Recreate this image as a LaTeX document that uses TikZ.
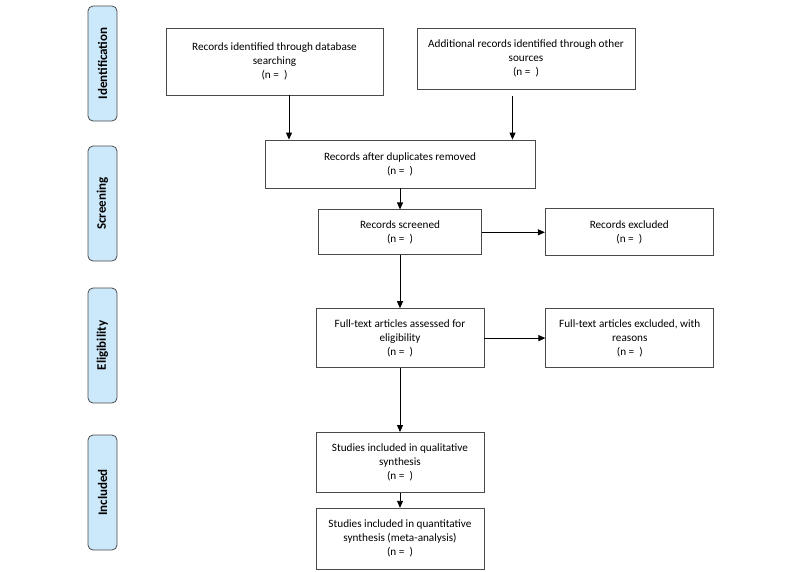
\documentclass[tikz,border=0pt]{standalone}
\usepackage{fontspec}
\setmainfont{Carlito}
\usetikzlibrary{positioning,arrows.meta}

\definecolor{tabblue}{HTML}{CCE8FB}
\definecolor{tabline}{HTML}{4A4A4A}
\definecolor{boxline}{HTML}{4A4A4A}

\begin{document}
\begin{tikzpicture}[
    x=1pt, y=1pt,
    node distance=20pt,
    phase/.style={rectangle, rounded corners=5pt, draw=tabline, fill=tabblue, rotate=90,
                  line width=0.8pt, minimum width=115pt, minimum height=29pt,
                  font=\fontsize{13}{15}\selectfont\bfseries},
    box/.style={rectangle, draw=boxline, line width=0.8pt, align=center, inner sep=2pt,
                font=\fontsize{11.2}{14}\selectfont},
    arrow/.style={-{Triangle[length=7pt, width=6pt]}, line width=0.9pt, black}
]
\useasboundingbox (0,0) rectangle (800,-571);

% Phase tabs
\node[phase] (identification) at (102.5,-63.5) {Identification};
\node[phase] (screening) at (102.5,-203.5) {Screening};
\node[phase] (eligibility) at (102.5,-345.5) {Eligibility};
\node[phase] (included) at (102.5,-492.5) {Included};

% Identification
\node[box, minimum width=217pt, minimum height=67pt] (dbsearch) at (274.5,-61.5) {
    Records identified through database\\
    searching\\
    (n = \ )
};

\node[box, minimum width=218pt, minimum height=61pt] (othersrc) at (526,-58.5) {
    Additional records identified through other\\
    sources\\
    (n = \ )
};

% Screening
\node[box, minimum width=270pt, minimum height=48pt] (dupes) at (400,-164) {
    Records after duplicates removed\\
    (n = \ )
};

\node[box, minimum width=163pt, minimum height=45pt, below=21pt of dupes] (screened) {
    Records screened\\
    (n = \ )
};

\node[box, minimum width=168pt, minimum height=47pt, right=63pt of screened] (excluded) {
    Records excluded\\
    (n = \ )
};

% Eligibility
\node[box, minimum width=168pt, minimum height=59pt, below=53pt of screened] (fulltext) {
    Full-text articles assessed for\\
    eligibility\\
    (n = \ )
};

\node[box, minimum width=168pt, minimum height=59pt, right=61pt of fulltext] (ftexcluded) {
    Full-text articles excluded, with\\
    reasons\\
    (n = \ )
};

% Included
\node[box, minimum width=168pt, minimum height=60pt, below=64pt of fulltext] (qualitative) {
    Studies included in qualitative\\
    synthesis\\
    (n = \ )
};

\node[box, minimum width=168pt, minimum height=61pt, below=15pt of qualitative] (quantitative) {
    Studies included in quantitative\\
    synthesis (meta-analysis)\\
    (n = \ )
};

% Flow arrows
\draw[arrow] ([xshift=14.5pt]dbsearch.south) -- ([xshift=14.5pt]dbsearch.south |- dupes.north);
\draw[arrow] ([xshift=-13.5pt, yshift=-7pt]othersrc.south) -- ([xshift=-13.5pt]othersrc.south |- dupes.north);
\draw[arrow] (dupes) -- (screened);
\draw[arrow] (screened) -- (excluded);
\draw[arrow] (screened) -- (fulltext);
\draw[arrow] (fulltext) -- (ftexcluded);
\draw[arrow] (fulltext) -- (qualitative);
\draw[arrow] (qualitative) -- (quantitative);

\end{tikzpicture}
\end{document}
